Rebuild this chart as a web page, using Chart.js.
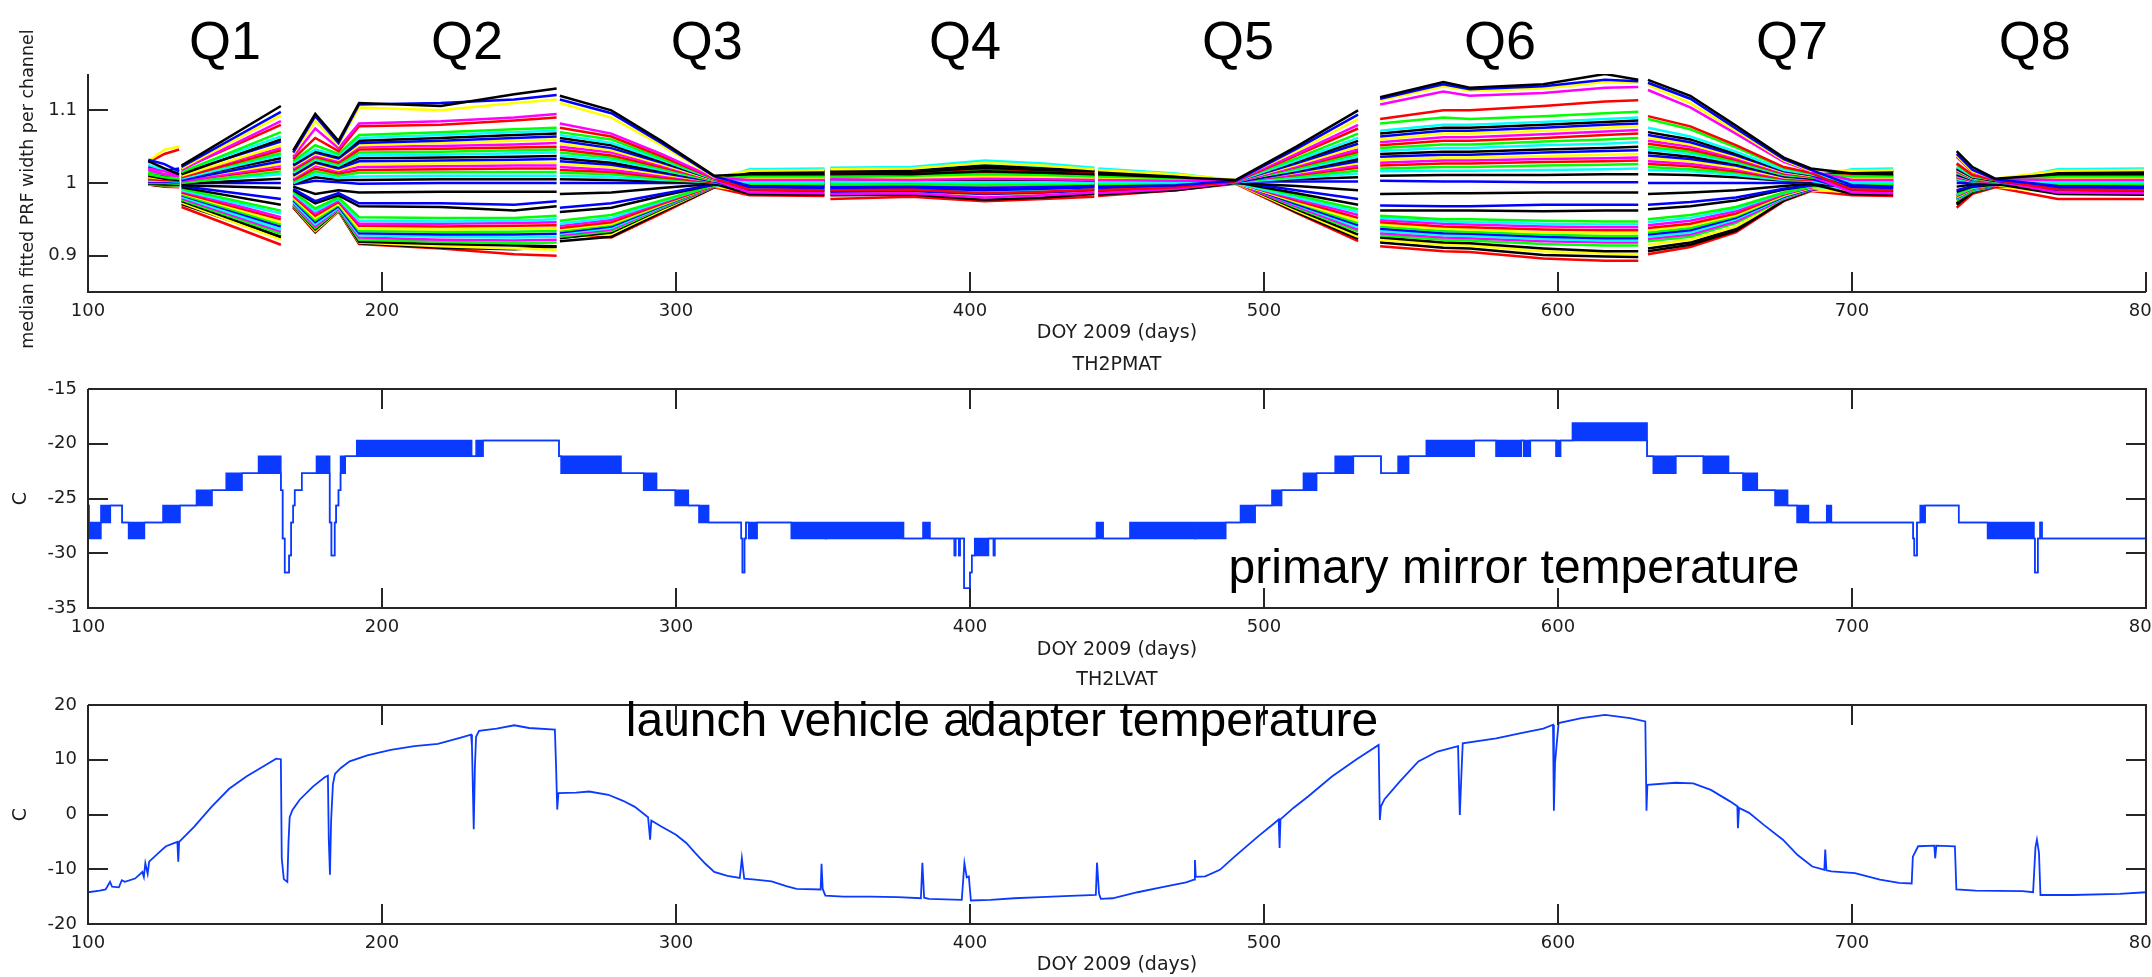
<!DOCTYPE html>
<html>
<head>
<meta charset="utf-8">
<script src="https://cdn.jsdelivr.net/npm/chart.js@4.4.1/dist/chart.umd.min.js"></script>
<style>
  html, body { margin: 0; padding: 0; background: #ffffff; width: 2152px; height: 977px; overflow: hidden; }
  canvas { position: absolute; left: 0; }
</style>
</head>
<body>
<canvas id="prf" width="2152" height="362" style="top:0px"></canvas>
<canvas id="pmat" width="2152" height="325" style="top:345px"></canvas>
<canvas id="lvat" width="2152" height="307" style="top:670px"></canvas>
<script>
// ---------- shared axis values ----------
const dayTicks = [100, 200, 300, 400, 500, 600, 700, 800];
const prfTicks = [0.9, 1, 1.1];
const pmatTicks = [-35, -30, -25, -20, -15];
const lvatTicks = [-20, -10, 0, 10, 20];

const quarterLabels = ['Q1', 'Q2', 'Q3', 'Q4', 'Q5', 'Q6', 'Q7', 'Q8'];
const quarterLabelDays = [146.6, 228.9, 310.5, 398.3, 491.2, 580.3, 679.6, 762.2];

// ---------- median fitted PRF width, one row per channel ----------
const q0Days = [120.5, 126, 131];
const q0Width = [
  [1.030,1.020,1.012],[1.032,1.026,1.016],[1.030,1.046,1.050],[1.020,1.016,1.010],[1.028,1.040,1.046],
  [1.012,1.008,1.006],[1.025,1.018,1.014],[1.010,1.006,1.004],[1.022,1.017,1.020],[1.008,1.006,1.005],
  [1.018,1.012,1.009],[1.005,1.004,1.003],[1.015,1.012,1.008],[1.003,1.003,1.002],[1.012,1.009,1.006],
  [1.002,1.002,1.001],[1.010,1.008,1.007],[1.001,1.001,1.000],[1.008,1.006,1.004],[1.000,1.000,0.999],
  [1.006,1.005,1.003],[1.000,1.000,1.000],[1.004,1.003,1.002],[0.999,0.999,0.998],[1.002,1.002,1.001],
  [0.999,0.998,0.998],[1.002,1.001,1.001],[0.998,0.998,0.997],[1.001,1.001,1.000],[0.998,0.997,0.997],
  [1.001,1.000,1.000],[0.999,0.997,0.996],[1.000,0.999,0.999],[0.999,0.997,0.996],[1.000,0.999,0.998],
  [0.999,0.996,0.995],[0.998,0.996,0.996],[1.000,0.997,0.995],[0.999,0.997,0.996],[0.998,0.995,0.994]
];

const q1Days = [131.8, 165.6];
const q1Width = [
  [1.024,1.106],[1.022,1.098],[1.020,1.093],[1.018,1.085],[1.019,1.080],
  [1.015,1.070],[1.016,1.064],[1.012,1.060],[1.014,1.057],[1.010,1.052],
  [1.011,1.048],[1.008,1.045],[1.009,1.041],[1.006,1.038],[1.007,1.034],
  [1.004,1.030],[1.005,1.026],[1.002,1.024],[1.003,1.020],[1.000,1.016],
  [1.001,1.012],[0.999,1.006],[1.000,1.000],[0.997,0.993],[0.996,0.978],
  [0.994,0.970],[0.992,0.962],[0.990,0.958],[0.989,0.953],[0.987,0.950],
  [0.986,0.946],[0.984,0.943],[0.983,0.940],[0.981,0.936],[0.979,0.933],
  [0.977,0.930],[0.975,0.926],[0.973,0.922],[0.971,0.925],[0.967,0.915]
];

const q2Days = [169.8, 177.3, 185.2, 192.2, 220, 245, 259.4];
const q2Width = [
  [1.045,1.095,1.058,1.110,1.106,1.122,1.130],
  [1.042,1.092,1.055,1.108,1.110,1.115,1.121],
  [1.040,1.085,1.052,1.104,1.100,1.110,1.115],
  [1.036,1.075,1.048,1.082,1.085,1.090,1.095],
  [1.033,1.062,1.044,1.078,1.080,1.086,1.090],
  [1.030,1.052,1.040,1.066,1.070,1.074,1.076],
  [1.028,1.046,1.038,1.062,1.066,1.070,1.072],
  [1.026,1.044,1.036,1.058,1.062,1.066,1.068],
  [1.024,1.042,1.034,1.055,1.058,1.062,1.064],
  [1.022,1.040,1.032,1.052,1.055,1.058,1.060],
  [1.020,1.038,1.030,1.050,1.051,1.053,1.055],
  [1.018,1.036,1.028,1.046,1.047,1.049,1.050],
  [1.016,1.034,1.026,1.042,1.043,1.045,1.046],
  [1.014,1.032,1.024,1.038,1.039,1.041,1.042],
  [1.012,1.030,1.022,1.034,1.035,1.036,1.037],
  [1.010,1.028,1.020,1.030,1.031,1.032,1.033],
  [1.008,1.026,1.018,1.026,1.027,1.028,1.028],
  [1.006,1.024,1.016,1.022,1.023,1.024,1.024],
  [1.004,1.020,1.013,1.018,1.019,1.020,1.020],
  [1.002,1.016,1.010,1.014,1.015,1.015,1.015],
  [1.000,1.012,1.007,1.009,1.010,1.010,1.010],
  [0.999,1.008,1.004,1.004,1.005,1.005,1.005],
  [0.998,1.003,1.001,0.999,1.000,1.000,1.000],
  [0.995,0.985,0.990,0.987,0.988,0.988,0.988],
  [0.992,0.975,0.986,0.972,0.972,0.970,0.975],
  [0.990,0.972,0.983,0.968,0.967,0.962,0.968],
  [0.988,0.965,0.980,0.953,0.952,0.952,0.955],
  [0.986,0.961,0.978,0.948,0.947,0.948,0.950],
  [0.984,0.958,0.976,0.944,0.944,0.945,0.946],
  [0.982,0.955,0.974,0.941,0.940,0.941,0.942],
  [0.980,0.952,0.972,0.937,0.936,0.937,0.938],
  [0.978,0.949,0.970,0.934,0.933,0.933,0.934],
  [0.976,0.946,0.968,0.931,0.929,0.929,0.930],
  [0.974,0.943,0.966,0.928,0.926,0.925,0.926],
  [0.972,0.940,0.965,0.925,0.922,0.921,0.922],
  [0.970,0.938,0.964,0.922,0.919,0.917,0.918],
  [0.969,0.936,0.963,0.919,0.916,0.914,0.913],
  [0.968,0.934,0.962,0.918,0.913,0.910,0.908],
  [0.967,0.933,0.962,0.917,0.911,0.909,0.912],
  [0.966,0.932,0.961,0.916,0.910,0.902,0.900]
];

const q3Days = [260.5, 278, 295, 313, 325, 350.5];
const q3Width = [
  [1.120,1.100,1.058,1.010,1.012,1.012],
  [1.115,1.096,1.055,1.009,0.996,0.995],
  [1.110,1.090,1.052,1.008,1.017,1.018],
  [1.082,1.068,1.040,1.007,1.004,1.004],
  [1.076,1.064,1.037,1.006,0.991,0.990],
  [1.070,1.060,1.034,1.006,1.009,1.009],
  [1.066,1.055,1.032,1.005,1.001,1.001],
  [1.062,1.052,1.030,1.005,1.014,1.015],
  [1.058,1.048,1.028,1.005,0.994,0.993],
  [1.054,1.045,1.026,1.004,1.006,1.006],
  [1.050,1.042,1.024,1.004,0.987,0.986],
  [1.046,1.038,1.022,1.004,1.011,1.011],
  [1.042,1.035,1.020,1.003,0.998,0.998],
  [1.038,1.032,1.018,1.003,1.019,1.020],
  [1.034,1.028,1.016,1.003,1.003,1.003],
  [1.030,1.025,1.014,1.002,0.990,0.989],
  [1.026,1.022,1.012,1.002,1.008,1.008],
  [1.022,1.018,1.010,1.002,0.996,0.996],
  [1.018,1.015,1.008,1.001,1.013,1.014],
  [1.014,1.012,1.006,1.001,1.000,1.000],
  [1.010,1.008,1.004,1.001,0.993,0.992],
  [1.005,1.004,1.002,1.000,1.016,1.017],
  [1.000,1.000,1.000,1.000,1.005,1.005],
  [0.985,0.987,0.993,0.999,0.985,0.984],
  [0.966,0.972,0.985,0.998,1.009,1.010],
  [0.960,0.966,0.982,0.998,0.997,0.997],
  [0.948,0.956,0.976,0.997,1.012,1.013],
  [0.944,0.952,0.974,0.997,0.992,0.991],
  [0.941,0.949,0.973,0.997,1.007,1.007],
  [0.938,0.946,0.971,0.996,1.002,1.002],
  [0.936,0.944,0.970,0.996,0.989,0.988],
  [0.934,0.942,0.969,0.996,1.015,1.016],
  [0.932,0.940,0.968,0.996,0.999,0.999],
  [0.930,0.938,0.967,0.996,1.018,1.019],
  [0.928,0.936,0.966,0.995,0.995,0.994],
  [0.926,0.934,0.965,0.995,1.006,1.006],
  [0.924,0.932,0.964,0.995,1.001,1.001],
  [0.925,0.930,0.962,0.995,0.988,0.987],
  [0.920,0.926,0.960,0.994,1.010,1.011],
  [0.930,0.925,0.958,0.994,0.983,0.982]
];

const q4Days = [352.5, 380, 405, 425, 442.3];
const q4Width = [
  [1.013,1.012,1.016,1.014,1.012],[0.994,0.995,0.993,0.994,0.996],[1.019,1.020,1.028,1.024,1.019],
  [1.005,1.004,1.006,1.005,1.004],[0.990,0.991,0.986,0.988,0.991],[1.008,1.010,1.012,1.011,1.009],
  [1.002,1.001,1.001,1.001,1.000],[1.016,1.015,1.021,1.018,1.016],[0.992,0.993,0.990,0.992,0.994],
  [1.007,1.006,1.008,1.007,1.006],[0.985,0.986,0.980,0.983,0.987],[1.010,1.011,1.015,1.013,1.011],
  [0.998,0.997,0.997,0.998,0.998],[1.021,1.022,1.031,1.027,1.021],[1.003,1.004,1.004,1.004,1.003],
  [0.988,0.989,0.985,0.987,0.990],[1.009,1.008,1.011,1.010,1.008],[0.996,0.996,0.994,0.995,0.997],
  [1.014,1.015,1.020,1.017,1.014],[1.000,1.001,1.000,1.000,1.000],[0.991,0.992,0.989,0.990,0.993],
  [1.018,1.017,1.024,1.020,1.017],[1.006,1.005,1.007,1.006,1.005],[0.983,0.984,0.977,0.980,0.985],
  [1.011,1.010,1.014,1.012,1.010],[0.997,0.997,0.996,0.996,0.998],[1.012,1.013,1.018,1.015,1.013],
  [0.990,0.991,0.987,0.989,0.992],[1.008,1.007,1.010,1.008,1.007],[1.002,1.002,1.003,1.002,1.002],
  [0.987,0.988,0.983,0.986,0.989],[1.015,1.016,1.022,1.019,1.016],[0.999,0.999,0.999,0.999,0.999],
  [1.020,1.019,1.026,1.023,1.020],[0.993,0.994,0.991,0.993,0.995],[1.006,1.006,1.009,1.007,1.006],
  [1.001,1.002,1.002,1.001,1.001],[0.986,0.987,0.982,0.985,0.988],[1.012,1.011,1.016,1.013,1.011],
  [0.978,0.981,0.975,0.978,0.981]
];

const q5Days = [443.6, 470, 490.3, 511, 532];
const q5Width = [
  [1.012,1.008,1.004,1.050,1.100],[0.995,0.997,1.003,1.047,1.094],[1.018,1.012,1.004,1.044,1.088],
  [1.004,1.003,1.003,1.040,1.080],[0.990,0.994,1.002,1.038,1.075],[1.009,1.007,1.003,1.034,1.068],
  [1.001,1.001,1.002,1.031,1.062],[1.015,1.010,1.003,1.029,1.058],[0.993,0.996,1.002,1.027,1.054],
  [1.006,1.004,1.002,1.025,1.050],[0.986,0.992,1.001,1.023,1.046],[1.011,1.008,1.002,1.022,1.043],
  [0.998,0.999,1.002,1.020,1.040],[1.020,1.013,1.003,1.018,1.036],[1.003,1.002,1.002,1.017,1.033],
  [0.989,0.993,1.001,1.015,1.030],[1.008,1.006,1.002,1.014,1.027],[0.996,0.998,1.002,1.012,1.024],
  [1.014,1.010,1.003,1.011,1.021],[1.000,1.000,1.002,1.009,1.017],[0.992,0.995,1.001,1.007,1.013],
  [1.017,1.011,1.003,1.005,1.008],[1.005,1.004,1.002,1.002,1.002],[0.984,0.990,1.000,0.996,0.990],
  [1.010,1.007,1.002,0.990,0.978],[0.997,0.998,1.001,0.986,0.970],[1.013,1.009,1.002,0.983,0.964],
  [0.991,0.994,1.000,0.980,0.960],[1.007,1.005,1.001,0.978,0.956],[1.002,1.001,1.001,0.976,0.952],
  [0.988,0.992,1.000,0.974,0.948],[1.016,1.010,1.002,0.973,0.945],[0.999,0.999,1.001,0.971,0.942],
  [1.019,1.012,1.002,0.970,0.939],[0.994,0.996,1.000,0.968,0.936],[1.006,1.004,1.001,0.966,0.933],
  [1.001,1.001,1.001,0.964,0.929],[0.987,0.992,1.000,0.962,0.926],[1.011,1.008,1.001,0.960,0.923],
  [0.982,0.990,0.999,0.959,0.920]
];

const q6Days = [539.5, 561, 570, 595, 616, 627.3];
const q6Width = [
  [1.118,1.139,1.131,1.136,1.150,1.142],
  [1.116,1.136,1.129,1.133,1.142,1.140],
  [1.114,1.133,1.127,1.130,1.139,1.138],
  [1.108,1.126,1.120,1.124,1.131,1.132],
  [1.088,1.100,1.100,1.106,1.112,1.114],
  [1.082,1.090,1.088,1.092,1.096,1.098],
  [1.072,1.080,1.080,1.084,1.088,1.090],
  [1.068,1.076,1.076,1.080,1.084,1.086],
  [1.064,1.072,1.072,1.076,1.080,1.082],
  [1.060,1.068,1.068,1.072,1.076,1.078],
  [1.056,1.063,1.063,1.067,1.071,1.073],
  [1.052,1.058,1.058,1.062,1.066,1.068],
  [1.048,1.053,1.053,1.057,1.060,1.062],
  [1.044,1.048,1.048,1.052,1.054,1.056],
  [1.040,1.043,1.043,1.046,1.048,1.050],
  [1.036,1.039,1.039,1.042,1.044,1.045],
  [1.032,1.035,1.035,1.037,1.039,1.040],
  [1.028,1.031,1.031,1.033,1.034,1.035],
  [1.024,1.027,1.027,1.029,1.030,1.031],
  [1.020,1.022,1.022,1.024,1.025,1.026],
  [1.016,1.017,1.017,1.018,1.019,1.020],
  [1.010,1.011,1.011,1.011,1.012,1.012],
  [1.003,1.002,1.002,1.001,1.001,1.001],
  [0.985,0.986,0.986,0.987,0.987,0.987],
  [0.969,0.968,0.968,0.970,0.970,0.970],
  [0.962,0.962,0.962,0.961,0.962,0.962],
  [0.955,0.950,0.950,0.948,0.947,0.947],
  [0.952,0.947,0.946,0.944,0.943,0.943],
  [0.949,0.944,0.943,0.940,0.939,0.939],
  [0.946,0.940,0.939,0.936,0.935,0.935],
  [0.943,0.937,0.936,0.932,0.931,0.931],
  [0.940,0.934,0.933,0.929,0.927,0.927],
  [0.937,0.931,0.930,0.926,0.924,0.924],
  [0.934,0.928,0.927,0.923,0.921,0.921],
  [0.931,0.925,0.924,0.920,0.918,0.918],
  [0.928,0.922,0.921,0.916,0.914,0.914],
  [0.925,0.918,0.917,0.910,0.906,0.906],
  [0.922,0.915,0.914,0.906,0.903,0.902],
  [0.918,0.911,0.910,0.901,0.899,0.898],
  [0.913,0.906,0.905,0.896,0.893,0.893]
];

const q7Days = [630.6, 645, 660.5, 676.8, 686, 700, 714];
const q7Width = [
  [1.142,1.120,1.079,1.035,1.020,1.013,1.012],
  [1.138,1.116,1.075,1.033,1.018,0.997,0.995],
  [1.135,1.110,1.072,1.031,1.017,1.017,1.018],
  [1.128,1.104,1.068,1.029,1.016,1.004,1.004],
  [1.092,1.078,1.052,1.022,1.014,0.991,0.990],
  [1.088,1.074,1.049,1.021,1.013,1.009,1.009],
  [1.076,1.064,1.043,1.018,1.012,1.001,1.001],
  [1.070,1.060,1.040,1.017,1.011,1.015,1.015],
  [1.066,1.056,1.038,1.016,1.011,0.994,0.993],
  [1.062,1.053,1.036,1.015,1.010,1.006,1.006],
  [1.058,1.050,1.034,1.014,1.010,0.987,0.986],
  [1.054,1.046,1.032,1.013,1.009,1.011,1.011],
  [1.050,1.043,1.030,1.012,1.008,0.998,0.998],
  [1.046,1.040,1.028,1.011,1.008,1.019,1.020],
  [1.042,1.036,1.026,1.010,1.007,1.003,1.003],
  [1.038,1.033,1.024,1.009,1.006,0.990,0.989],
  [1.034,1.030,1.021,1.008,1.006,1.008,1.008],
  [1.030,1.026,1.019,1.007,1.005,0.996,0.996],
  [1.026,1.023,1.016,1.006,1.004,1.014,1.014],
  [1.022,1.019,1.014,1.005,1.004,1.000,1.000],
  [1.018,1.016,1.011,1.004,1.003,0.993,0.992],
  [1.012,1.011,1.008,1.003,1.002,1.016,1.017],
  [1.000,1.000,1.000,1.000,1.001,1.005,1.005],
  [0.985,0.987,0.990,0.996,0.999,0.985,0.984],
  [0.970,0.974,0.980,0.992,0.997,1.010,1.010],
  [0.964,0.968,0.976,0.991,0.997,0.997,0.997],
  [0.950,0.956,0.967,0.987,0.995,1.012,1.013],
  [0.946,0.952,0.964,0.986,0.995,0.992,0.991],
  [0.942,0.948,0.961,0.985,0.994,1.007,1.007],
  [0.938,0.944,0.958,0.984,0.994,1.002,1.002],
  [0.935,0.941,0.956,0.983,0.993,0.989,0.988],
  [0.932,0.938,0.954,0.982,0.993,1.015,1.016],
  [0.929,0.935,0.952,0.981,0.992,0.999,0.999],
  [0.926,0.932,0.950,0.980,0.992,1.018,1.019],
  [0.923,0.929,0.947,0.979,0.991,0.995,0.994],
  [0.920,0.926,0.945,0.978,0.991,1.006,1.006],
  [0.906,0.915,0.934,0.976,0.990,1.001,1.001],
  [0.915,0.922,0.940,0.977,0.990,0.988,0.987],
  [0.910,0.918,0.937,0.976,0.990,1.011,1.011],
  [0.902,0.912,0.932,0.975,0.989,0.983,0.982]
];

const q8Days = [735.6, 741, 748.7, 770, 799.3];
const q8Width = [
  [1.044,1.022,1.006,1.012,1.012],[1.040,1.018,1.005,0.996,0.995],[1.038,1.016,1.006,1.017,1.018],
  [1.036,1.015,1.005,1.004,1.004],[1.027,1.011,1.004,0.991,0.990],[1.025,1.010,1.004,1.009,1.009],
  [1.022,1.009,1.004,1.001,1.001],[1.020,1.008,1.003,1.015,1.015],[1.019,1.008,1.003,0.993,0.993],
  [1.018,1.007,1.003,1.006,1.006],[1.017,1.007,1.003,0.987,0.986],[1.016,1.006,1.003,1.011,1.011],
  [1.015,1.006,1.002,0.998,0.998],[1.014,1.005,1.002,1.019,1.020],[1.012,1.005,1.002,1.003,1.003],
  [1.011,1.004,1.002,0.990,0.989],[1.010,1.004,1.002,1.008,1.008],[1.009,1.003,1.002,0.996,0.996],
  [1.008,1.003,1.001,1.014,1.014],[1.007,1.003,1.001,1.000,1.000],[1.005,1.002,1.001,0.993,0.992],
  [1.004,1.002,1.001,1.016,1.017],[1.000,1.000,1.000,1.005,1.005],[0.995,0.998,0.999,0.985,0.984],
  [0.990,0.996,0.999,1.010,1.010],[0.988,0.995,0.998,0.997,0.997],[0.985,0.994,0.998,1.012,1.013],
  [0.984,0.993,0.998,0.992,0.991],[0.983,0.993,0.997,1.007,1.007],[0.982,0.992,0.997,1.002,1.002],
  [0.981,0.992,0.997,0.989,0.988],[0.980,0.991,0.997,1.015,1.016],[0.979,0.991,0.996,0.999,0.999],
  [0.978,0.990,0.996,1.018,1.019],[0.977,0.990,0.996,0.994,0.994],[0.976,0.989,0.996,1.006,1.006],
  [0.972,0.988,0.995,1.001,1.001],[0.974,0.988,0.995,0.987,0.987],[0.970,0.987,0.995,1.011,1.011],
  [0.966,0.985,0.994,0.978,0.978]
];

// ---------- TH2PMAT: stepped reading, upper and lower envelope of the quantised signal ----------
const pmatDays = [
  100,100.3,104.4,107.6,111.6,113.8,119.2,125.5,131.3,136.9,
  142.2,147,152.4,158,165.6,166.2,166.9,168.4,169.1,169.8,
  170.3,172.7,177.7,182.2,182.8,183.9,184.4,185.2,185.9,187.5,
  191.4,230.5,232,234.4,260.2,260.9,281.3,289,293.4,299.7,
  304.2,307.8,311.1,322.2,322.6,323.3,323.8,324.7,327.6,339.2,
  350.8,351.2,377.4,384,386.4,394.7,395.1,396.2,396.6,398,
  400,400.6,401.6,406.3,408,408.4,443,445.3,454.4,476.5,
  476.9,487,492,497,502.7,506,513.4,517.9,524.2,530.4,
  539.8,545.6,549.2,555.2,571.5,578.9,587.5,588.3,590.6,599.3,
  600.9,604.9,630.3,632.4,640.1,649.4,658,662.9,667.8,673.8,
  678.1,681.3,685.2,691.4,693,720.8,721.2,722.1,723.2,724.9,
  736.3,746.1,761.9,762.2,763.2,764,764.6,800
];
const pmatHigh = [
  -25.65,-27.2,-25.65,-25.65,-27.2,-27.2,-27.2,-25.65,-25.65,-24.25,
  -24.25,-22.7,-22.7,-21.15,-24.25,-28.65,-31.75,-30.2,-27.2,-25.65,
  -24.25,-22.7,-21.15,-27.2,-30.2,-27.2,-25.65,-24.25,-21.15,-21.15,
  -19.7,-21.15,-19.7,-19.7,-21.15,-21.15,-22.7,-22.7,-24.25,-24.25,
  -25.65,-25.65,-27.2,-28.65,-31.75,-28.65,-27.2,-27.2,-27.2,-27.2,
  -28.65,-27.2,-28.65,-27.2,-28.65,-30.2,-28.65,-30.2,-28.65,-33.2,
  -31.75,-30.2,-28.65,-28.65,-30.2,-28.65,-27.2,-28.65,-27.2,-28.65,
  -27.2,-27.2,-25.65,-25.65,-24.25,-24.25,-22.7,-22.7,-21.15,-21.15,
  -22.7,-21.15,-21.15,-19.7,-19.7,-19.7,-19.7,-19.7,-19.7,-19.7,
  -19.7,-18.1,-21.15,-21.15,-21.15,-21.15,-22.7,-22.7,-24.25,-24.25,
  -25.65,-25.65,-27.2,-25.65,-27.2,-28.65,-30.2,-27.2,-25.65,-25.65,
  -27.2,-27.2,-28.65,-31.75,-28.65,-27.2,-28.65,-28.65
];
const pmatLow = [
  -25.65,-28.65,-27.2,-25.65,-27.2,-28.65,-27.2,-27.2,-25.65,-25.65,
  -24.25,-24.25,-22.7,-22.7,-24.25,-28.65,-31.75,-30.2,-27.2,-25.65,
  -24.25,-22.7,-22.7,-27.2,-30.2,-27.2,-25.65,-24.25,-22.7,-21.15,
  -21.15,-21.15,-21.15,-19.7,-21.15,-22.7,-22.7,-24.25,-24.25,-25.65,
  -25.65,-27.2,-27.2,-28.65,-31.75,-28.65,-27.2,-28.65,-27.2,-28.65,
  -28.65,-28.65,-28.65,-28.65,-28.65,-30.2,-28.65,-30.2,-28.65,-33.2,
  -31.75,-30.2,-30.2,-28.65,-30.2,-28.65,-28.65,-28.65,-28.65,-28.65,
  -28.65,-27.2,-27.2,-25.65,-25.65,-24.25,-24.25,-22.7,-22.7,-21.15,
  -22.7,-22.7,-21.15,-21.15,-19.7,-21.15,-19.7,-21.15,-19.7,-21.15,
  -19.7,-19.7,-21.15,-22.7,-21.15,-22.7,-22.7,-24.25,-24.25,-25.65,
  -25.65,-27.2,-27.2,-27.2,-27.2,-28.65,-30.2,-27.2,-27.2,-25.65,
  -27.2,-28.65,-28.65,-31.75,-28.65,-27.2,-28.65,-28.65
];

// ---------- TH2LVAT ----------
const lvatDays = [
  100,104,106,107.5,108.2,110.5,111.5,112.5,116,118.5,
  119,119.5,120.3,120.8,124,126.5,130.4,130.7,131,136,
  142,148,154,160,164,165.6,165.9,166.6,167.8,168.2,
  168.6,169.5,172,176.5,180.5,181.6,181.9,182.3,182.7,183.3,
  184,186,189,195,203,211,219,226.5,230.3,230.6,
  231.2,231.6,232,233,239,245,250,258.8,259.2,259.6,
  260,266,270.5,277,282,286,290.5,291.2,291.6,295,
  300,303.5,306.5,310,313,317.5,321.7,322.4,323.2,327,
  332.5,337.5,341,349.2,349.5,349.9,350.8,357,366,375.5,
  383.3,383.8,384.4,386,397.2,398.1,398.9,399.6,400.3,407,
  415,424,432,442.8,443.2,443.9,444.5,448.5,457,465,
  473.5,476.2,476.5,476.8,480,485,490,498,503.5,505,
  505.3,505.6,510,515,523,531.5,539,539.4,539.8,541,
  546,552.5,559,566,566.6,567.2,567.6,579,587,595,
  598.3,598.6,599,600.2,608,616,624.5,629.7,630.1,630.4,
  640,646,652,658.5,661,661.2,661.6,665,670,676.5,
  681.5,686.5,690.6,690.9,691.3,693,701,709.5,716,720.3,
  720.7,722.5,728,728.3,728.7,735,735.5,742,758,761.6,
  762.4,762.9,763.6,764.1,775,791,800
];
const lvatTemps = [
  -14.2,-13.9,-13.7,-12.3,-13.2,-13.3,-12.0,-12.3,-11.7,-10.5,
  -11.4,-8.9,-10.8,-8.6,-7.0,-5.8,-5.0,-8.6,-5.0,-2.3,
  1.4,4.7,7.0,8.9,10.2,10.1,-8.0,-11.8,-12.3,-5.0,
  -0.5,0.8,2.7,5.1,6.8,7.1,-4.5,-11.0,-1.0,5.5,
  7.4,8.5,9.7,10.8,11.8,12.5,12.9,14.0,14.6,12.5,
  -2.7,8.7,14.2,15.3,15.7,16.3,15.8,15.5,9.0,0.9,
  3.9,4.0,4.2,3.6,2.5,1.4,-0.5,-4.6,-1.1,-2.2,
  -3.7,-5.2,-7.0,-9.0,-10.5,-11.2,-11.6,-8.0,-11.7,-11.9,
  -12.2,-13.1,-13.6,-13.7,-9.0,-13.6,-14.8,-15.0,-15.0,-15.1,
  -15.3,-8.8,-15.2,-15.4,-15.6,-8.9,-11.5,-11.3,-15.7,-15.6,
  -15.3,-15.1,-14.9,-14.7,-8.8,-14.5,-15.4,-15.3,-14.2,-13.3,
  -12.4,-11.9,-8.3,-11.4,-11.3,-10.1,-7.7,-4.0,-1.6,-0.9,
  -6.1,-0.9,1.2,3.3,6.9,10.1,12.7,-1.0,1.5,2.8,
  5.9,9.7,11.5,12.5,-0.1,8.0,13.0,13.9,14.8,15.7,
  16.4,0.7,9.5,16.7,17.6,18.2,17.6,17.0,0.7,5.4,
  5.8,5.7,4.5,2.4,1.5,-2.5,1.2,0.3,-1.9,-4.6,
  -7.4,-9.5,-10.1,-6.4,-10.2,-10.4,-10.7,-11.9,-12.5,-12.6,
  -7.7,-5.8,-5.7,-8.0,-5.7,-5.8,-13.7,-13.9,-14.0,-14.2,
  -6.0,-4.6,-7.0,-14.7,-14.7,-14.5,-14.2
];

// ---------- styling ----------
const K = '#000000', B = '#0000ff', Y = '#ffff00', M = '#ff00ff', R = '#ff0000', G = '#00ff00', C = '#00ffff';
const channelColors = [
  K,B,Y,M,R,G,C, K,B,Y,M,R,G,C, K,B,Y,M,R,G,C, K,B, K,B,K,
  G,C,M,R,Y,G,B,C,M,G,K,Y,K,R
];
const TRACE_BLUE = '#0b3aff';
const AXIS_COLOR = '#262626';
const TEXT_COLOR = '#1c1c1c';
const TICK_LEN = 20;
const SMALL_FONT = '19px "DejaVu Sans"';

Chart.defaults.font.family = '"DejaVu Sans", sans-serif';

// Axes frame, inward tick marks and all panel text
const framePlugin = {
  id: 'frame',
  afterDraw(chart, args, o) {
    const { ctx, chartArea: a, scales: { x, y } } = chart;
    ctx.save();
    ctx.strokeStyle = AXIS_COLOR;
    ctx.lineWidth = 2;
    ctx.beginPath();
    ctx.moveTo(a.left, a.top);
    ctx.lineTo(a.left, a.bottom);
    ctx.lineTo(a.right, a.bottom);
    if (o.box) { ctx.lineTo(a.right, a.top); ctx.lineTo(a.left, a.top); }
    x.ticks.forEach(t => {
      const px = Math.round(x.getPixelForValue(t.value));
      ctx.moveTo(px, a.bottom); ctx.lineTo(px, a.bottom - TICK_LEN);
      if (o.box) { ctx.moveTo(px, a.top); ctx.lineTo(px, a.top + TICK_LEN); }
    });
    y.ticks.forEach(t => {
      const py = Math.round(y.getPixelForValue(t.value));
      ctx.moveTo(a.left, py); ctx.lineTo(a.left + TICK_LEN, py);
      if (o.box) { ctx.moveTo(a.right, py); ctx.lineTo(a.right - TICK_LEN, py); }
    });
    ctx.stroke();

    ctx.fillStyle = TEXT_COLOR;
    ctx.textAlign = 'center';
    ctx.textBaseline = 'middle';
    ctx.font = SMALL_FONT;
    const cx = (a.left + a.right) / 2;
    ctx.fillText(o.xTitle, cx, o.xTitleY);
    if (o.title) ctx.fillText(o.title, cx, o.titleY);

    ctx.save();
    ctx.translate(o.yTitleX, o.yTitleY !== undefined ? o.yTitleY : (a.top + a.bottom) / 2);
    ctx.rotate(-Math.PI / 2);
    ctx.font = o.yTitleFont || SMALL_FONT;
    ctx.fillText(o.yTitle, 0, 0);
    ctx.restore();

    ctx.fillStyle = '#000000';
    ctx.textBaseline = 'alphabetic';
    (o.notes || []).forEach(n => {
      ctx.font = n.font;
      const nx = n.day !== undefined ? x.getPixelForValue(n.day) : n.x;
      ctx.fillText(n.text, nx, n.y);
    });
    ctx.restore();
  }
};

function panelOptions(p) {
  return {
    responsive: false,
    animation: false,
    events: [],
    layout: { padding: { left: 0, right: 6, top: p.top, bottom: 0 } },
    plugins: {
      legend: { display: false },
      tooltip: { enabled: false },
      title: { display: false },
      frame: p.frame
    },
    scales: {
      x: {
        type: 'linear', min: 100, max: 800,
        afterBuildTicks: s => { s.ticks = dayTicks.map(v => ({ value: v })); },
        afterFit: s => { s.height = p.xHeight; s.paddingLeft = 0; s.paddingRight = 0; },
        grid: { display: false, drawTicks: false },
        border: { display: false },
        ticks: { padding: 9, color: TEXT_COLOR, font: { size: 18 }, maxRotation: 0, autoSkip: false,
                 callback: v => String(v) }
      },
      y: {
        type: 'linear', min: p.yMin, max: p.yMax,
        afterBuildTicks: s => { s.ticks = p.yTicks.map(v => ({ value: v })); },
        afterFit: s => { s.width = 88; s.paddingTop = 0; s.paddingBottom = 0; },
        grid: { display: false, drawTicks: false },
        border: { display: false },
        ticks: { padding: 11, color: TEXT_COLOR, font: { size: 18 }, callback: v => String(v) }
      }
    }
  };
}

// ---------- panel 1: PRF width per channel ----------
const quarters = [
  [q0Days, q0Width], [q1Days, q1Width], [q2Days, q2Width], [q3Days, q3Width], [q4Days, q4Width],
  [q5Days, q5Width], [q6Days, q6Width], [q7Days, q7Width], [q8Days, q8Width]
];
const prfDatasets = channelColors.map((color, ch) => {
  const pts = [];
  quarters.forEach(([days, rows]) => {
    days.forEach((d, j) => pts.push({ x: d, y: rows[ch][j] }));
    pts.push({ x: days[days.length - 1], y: null });
  });
  return { data: pts, borderColor: color, borderWidth: 2.5, pointRadius: 0, fill: false, spanGaps: false, tension: 0 };
});

new Chart(document.getElementById('prf'), {
  type: 'line',
  data: { datasets: prfDatasets },
  options: panelOptions({
    top: 74, xHeight: 70, yMin: 0.85, yMax: 1.15, yTicks: prfTicks,
    frame: {
      box: false,
      xTitle: 'DOY 2009 (days)', xTitleY: 333,
      yTitle: 'median fitted PRF width per channel', yTitleX: 28, yTitleY: 189, yTitleFont: '17.5px "DejaVu Sans"',
      notes: quarterLabels.map((q, i) => ({ text: q, day: quarterLabelDays[i], y: 59, font: '54px "Liberation Sans"' }))
    }
  }),
  plugins: [framePlugin]
});

// ---------- panel 2: TH2PMAT ----------
new Chart(document.getElementById('pmat'), {
  type: 'line',
  data: {
    datasets: [
      { data: pmatDays.map((d, i) => ({ x: d, y: pmatHigh[i] })), stepped: true,
        borderColor: TRACE_BLUE, borderWidth: 1.5, pointRadius: 0, fill: false },
      { data: pmatDays.map((d, i) => ({ x: d, y: pmatLow[i] })), stepped: true,
        borderColor: TRACE_BLUE, borderWidth: 1.5, pointRadius: 0, fill: '-1', backgroundColor: TRACE_BLUE }
    ]
  },
  options: panelOptions({
    top: 44, xHeight: 62, yMin: -35, yMax: -15, yTicks: pmatTicks,
    frame: {
      box: true,
      title: 'TH2PMAT', titleY: 20,
      xTitle: 'DOY 2009 (days)', xTitleY: 305,
      yTitle: 'C', yTitleX: 21,
      notes: [{ text: 'primary mirror temperature', x: 1514, y: 238, font: '48px "Liberation Sans"' }]
    }
  }),
  plugins: [framePlugin]
});

// ---------- panel 3: TH2LVAT ----------
new Chart(document.getElementById('lvat'), {
  type: 'line',
  data: {
    datasets: [
      { data: lvatDays.map((d, i) => ({ x: d, y: lvatTemps[i] })),
        borderColor: TRACE_BLUE, borderWidth: 1.8, pointRadius: 0, fill: false, tension: 0 }
    ]
  },
  options: panelOptions({
    top: 35, xHeight: 53, yMin: -20, yMax: 20, yTicks: lvatTicks,
    frame: {
      box: true,
      title: 'TH2LVAT', titleY: 10,
      xTitle: 'DOY 2009 (days)', xTitleY: 295,
      yTitle: 'C', yTitleX: 21,
      notes: [{ text: 'launch vehicle adapter temperature', x: 1002, y: 66, font: '48px "Liberation Sans"' }]
    }
  }),
  plugins: [framePlugin]
});
</script>
</body>
</html>
